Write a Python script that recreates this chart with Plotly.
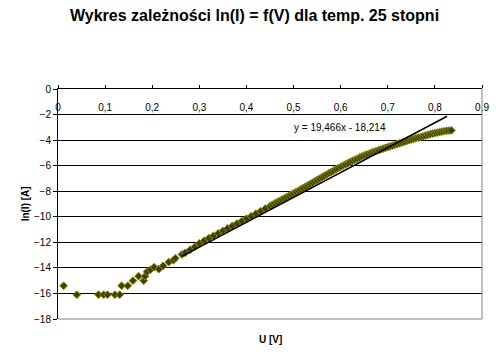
import plotly.graph_objects as go

# ---- data ----
u_low = [0.012, 0.040, 0.086, 0.097, 0.105, 0.121, 0.131, 0.135, 0.148, 0.159,
         0.171, 0.182, 0.185, 0.189, 0.196, 0.204, 0.214, 0.223, 0.235, 0.245,
         0.249, 0.263]
ln_low = [-15.4, -16.1, -16.1, -16.1, -16.1, -16.1, -16.1, -15.4, -15.4, -15.0,
          -14.65, -15.0, -14.65, -14.3, -14.15, -13.95, -14.1, -13.85, -13.55, -13.4,
          -13.25, -12.95]

u_mid = [0.27, 0.28, 0.29, 0.30, 0.31, 0.32, 0.33, 0.34, 0.35, 0.36,
         0.37, 0.38, 0.39, 0.40, 0.41, 0.42, 0.43, 0.44]
ln_mid = [-12.82, -12.60, -12.36, -12.08, -11.88, -11.68, -11.49, -11.30, -11.10, -10.91,
          -10.72, -10.53, -10.34, -10.15, -9.96, -9.76, -9.56, -9.36]

u_high = [0.450, 0.455, 0.460, 0.465, 0.470, 0.475, 0.480, 0.485, 0.490, 0.495,
          0.500, 0.505, 0.510, 0.515, 0.520, 0.525, 0.530, 0.535, 0.540, 0.545,
          0.550, 0.555, 0.560, 0.565, 0.570, 0.575, 0.580, 0.585, 0.590, 0.595,
          0.600, 0.605, 0.610, 0.615, 0.620, 0.625, 0.630, 0.635, 0.640, 0.645,
          0.650, 0.655, 0.660, 0.665, 0.670, 0.675, 0.680, 0.685, 0.690, 0.695,
          0.700, 0.705, 0.710, 0.715, 0.720, 0.725, 0.730, 0.735, 0.740, 0.745,
          0.750, 0.755, 0.760, 0.765, 0.770, 0.775, 0.780, 0.785, 0.790, 0.795,
          0.800, 0.805, 0.810, 0.815, 0.820, 0.825, 0.830, 0.835]
ln_high = [-9.16, -9.06, -8.96, -8.86, -8.76, -8.66, -8.56, -8.46, -8.36, -8.26,
           -8.16, -8.06, -7.96, -7.86, -7.75, -7.65, -7.54, -7.44, -7.33, -7.23,
           -7.12, -7.02, -6.91, -6.80, -6.70, -6.59, -6.49, -6.39, -6.29, -6.19,
           -6.09, -5.99, -5.90, -5.81, -5.71, -5.62, -5.53, -5.45, -5.36, -5.28,
           -5.20, -5.13, -5.06, -4.99, -4.92, -4.86, -4.79, -4.73, -4.67, -4.61,
           -4.55, -4.49, -4.43, -4.37, -4.31, -4.25, -4.19, -4.13, -4.07, -4.01,
           -3.96, -3.90, -3.85, -3.80, -3.75, -3.70, -3.64, -3.59, -3.54, -3.49,
           -3.45, -3.41, -3.37, -3.33, -3.30, -3.27, -3.25, -3.24]

trend_slope = 19.466
trend_intercept = -18.214
trend_u = [0.263, 0.826]

x_ticks = [0, 0.1, 0.2, 0.3, 0.4, 0.5, 0.6, 0.7, 0.8, 0.9]
y_ticks = [0, -2, -4, -6, -8, -10, -12, -14, -16, -18]

title_text = "Wykres zależności ln(I) = f(V) dla temp. 25 stopni"
x_title = "U [V]"
y_title = "ln(I) [A]"

# ---- figure ----
FONT = "Liberation Sans, Arial, sans-serif"
u_all = u_low + u_mid + u_high
ln_all = ln_low + ln_mid + ln_high
trend_ln = [trend_slope * u + trend_intercept for u in trend_u]

fig = go.Figure()
fig.add_trace(go.Scatter(
    x=u_all, y=ln_all, mode="markers",
    marker=dict(symbol="diamond", size=6, color="#404000",
                line=dict(color="#8c8c00", width=1)),
    showlegend=False, hoverinfo="skip"))
fig.add_trace(go.Scatter(
    x=trend_u, y=trend_ln, mode="lines",
    line=dict(color="black", width=1.5),
    showlegend=False, hoverinfo="skip"))

eq = "y = {:.3f}x - {:.3f}".format(trend_slope, -trend_intercept).replace(".", ",")
fig.add_annotation(x=0.599, y=-3.02, xref="x", yref="y", text=eq, showarrow=False,
                   font=dict(family=FONT, size=10, color="black"))

# grey plot-area border (right and bottom)
fig.add_shape(type="line", xref="paper", yref="paper", x0=1, x1=1, y0=0, y1=1,
              line=dict(color="#808080", width=1), layer="above")
fig.add_shape(type="line", xref="paper", yref="paper", x0=0, x1=1, y0=0, y1=0,
              line=dict(color="#808080", width=1), layer="above")

fig.update_layout(
    width=503, height=357,
    margin=dict(l=58, r=21, t=89, b=38),
    paper_bgcolor="white", plot_bgcolor="white",
    separators=", ",
    font=dict(family=FONT, size=10, color="black"),
    title=dict(text="<b>" + title_text + "</b>", x=0.506, xanchor="center",
               yref="container", y=0.958, yanchor="middle",
               font=dict(family=FONT, size=16, color="black")),
    xaxis=dict(range=[0, 0.9], tickvals=x_ticks, tickformat="~r",
               side="top", ticklabelposition="inside",
               ticklabeloverflow="allow", ticklabelstandoff=14,
               showline=True, linecolor="black", linewidth=1,
               ticks="outside", ticklen=3, tickcolor="black",
               showgrid=False, zeroline=False,
               tickfont=dict(family=FONT, size=10, color="black"),
               fixedrange=True),
    yaxis=dict(range=[-18, 0], tickvals=y_ticks,
               ticklabeloverflow="allow",
               showline=True, linecolor="black", linewidth=1,
               ticks="outside", ticklen=4, tickcolor="black",
               showgrid=True, gridcolor="black", gridwidth=1,
               zeroline=False,
               tickfont=dict(family=FONT, size=10, color="black"),
               fixedrange=True),
)
# axis titles as annotations to place them like the reference
fig.add_annotation(xref="paper", yref="paper", x=0.5, y=-0.09, yanchor="middle",
                   text="<b>" + x_title + "</b>", showarrow=False,
                   font=dict(family=FONT, size=10, color="black"))
fig.add_annotation(xref="paper", yref="paper", x=-0.077, xanchor="center",
                   y=0.5, yanchor="middle", textangle=-90,
                   text="<b>" + y_title + "</b>", showarrow=False,
                   font=dict(family=FONT, size=10, color="black"))

fig.write_html("out.html", config={"displayModeBar": False},
               post_script="document.body.style.margin='0';")
